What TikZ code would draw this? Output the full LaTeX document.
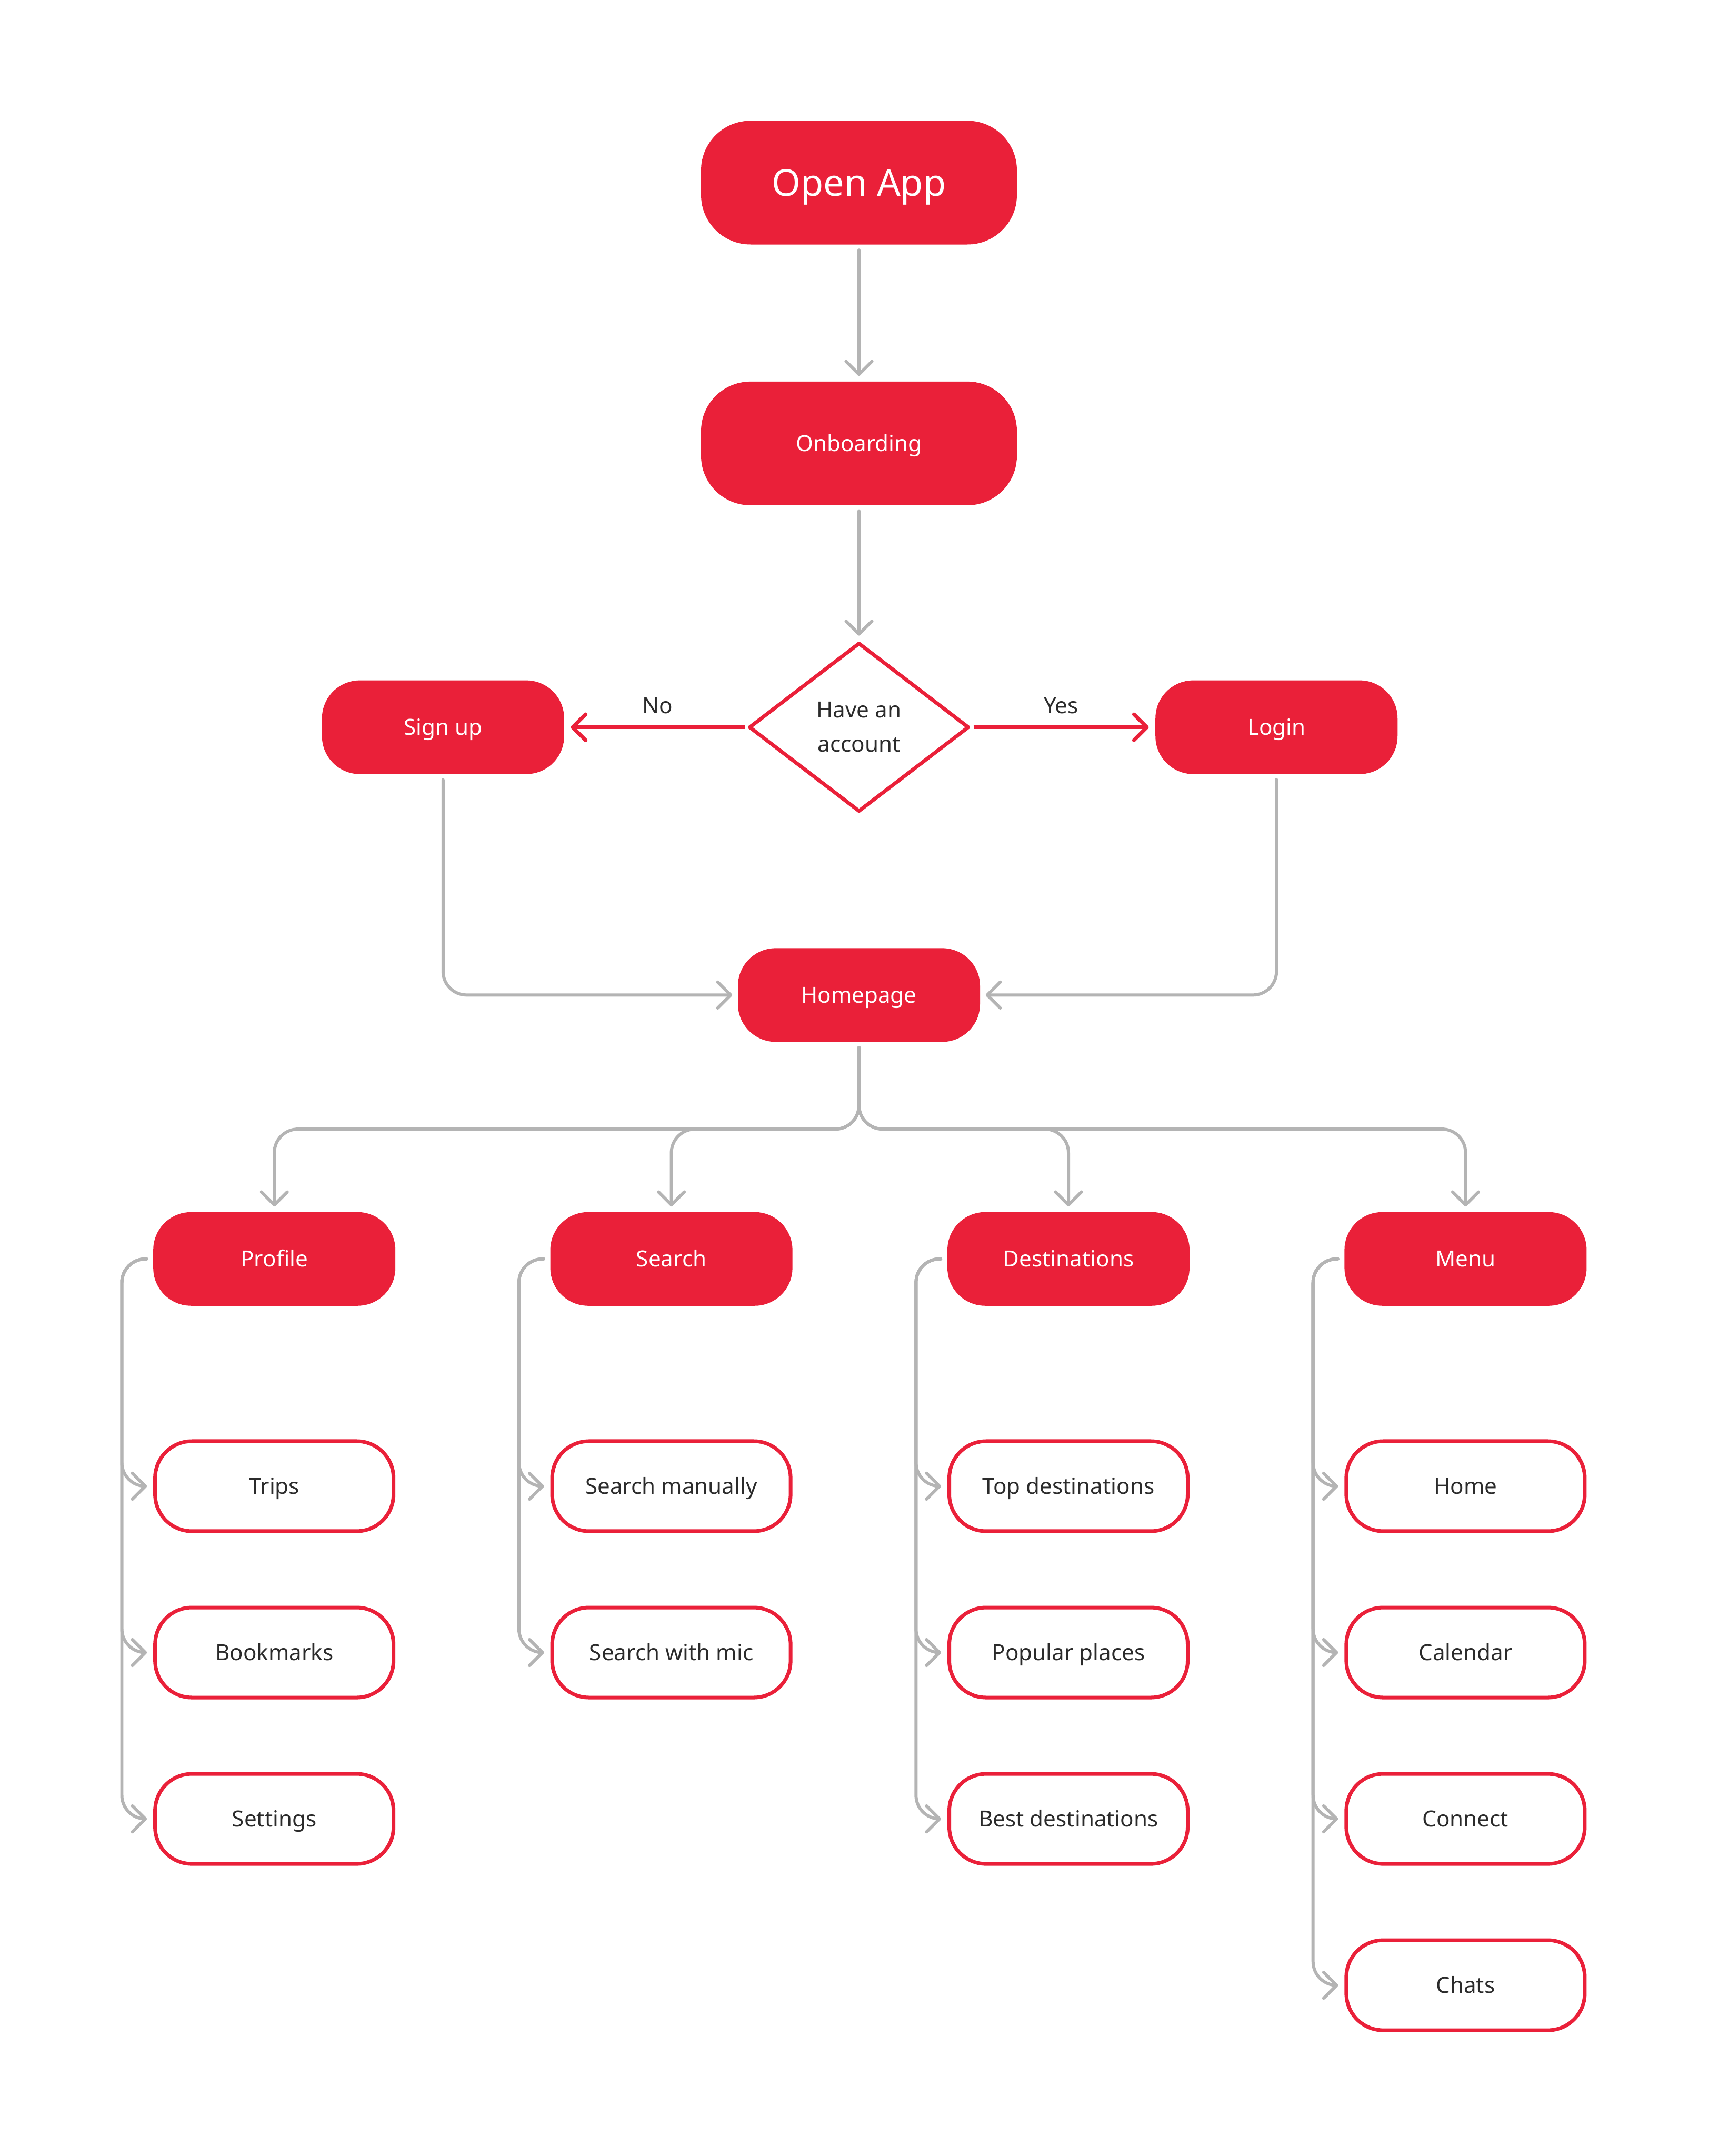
\documentclass[tikz,border=0pt]{standalone}
\usepackage{fontspec}
\setmainfont{Noto Sans}
\usepackage{xcolor}
\usetikzlibrary{positioning,arrows.meta,shapes.geometric,calc}
\definecolor{flowred}{RGB}{234,32,57}
\definecolor{flowgray}{RGB}{180,180,180}
\definecolor{flowtext}{RGB}{43,43,43}

\begin{document}
\begin{tikzpicture}[
        font=\fontsize{12}{14}\selectfont,
        >={Straight Barb[length=7pt, width=14pt, line cap=round, line join=round]},
        mainbox/.style={
                rectangle, rounded corners=0.72cm,
                fill=flowred, text=white,
                minimum width=4.6cm, minimum height=1.78cm,
                text height=8.6pt, text depth=0pt,
                align=center, inner sep=0pt
            },
        widebox/.style={
                mainbox, rounded corners=0.94cm,
                minimum width=6cm, minimum height=2.35cm
            },
        subbox/.style={
                rectangle, rounded corners=0.7cm,
                draw=flowred, line width=2pt, fill=white, text=flowtext,
                minimum width=4.53cm, minimum height=1.71cm,
                text height=8.6pt, text depth=0pt,
                align=center, inner sep=0pt
            },
        decision/.style={
                diamond, draw=flowred, line width=2pt, line join=round,
                fill=white, text=flowtext,
                minimum width=4.18cm, minimum height=3.21cm,
                inner sep=0pt, align=center,
                font=\fontsize{12}{18.5}\selectfont
            },
        arrow/.style={->, line width=1.7pt, draw=flowgray, rounded corners=0.45cm, line cap=round},
        choice/.style={->, line width=2pt, draw=flowred},
        choicelabel/.style={midway, above=0.1cm, text=flowtext}
    ]

    \useasboundingbox (0,0) rectangle (32.46,-40.96);

    % ===== Start =====
    \node[widebox, font=\fontsize{20}{24}\selectfont, text height=14.3pt] (openapp) at (16.32,-3.47) {Open App};
    \node[widebox, below=2.59cm of openapp] (onboard) {Onboarding};

    % ===== Account check =====
    \node[decision, below=2.57cm of onboard] (account) {Have an\\account};
    \node[mainbox, left=3.47cm of account] (signup) {Sign up};
    \node[mainbox, right=3.50cm of account] (login) {Login};

    % ===== Homepage =====
    \node[mainbox, below=2.55cm of account] (homepage) {Homepage};
    \coordinate[below=1.65cm of homepage.south] (split);

    % ===== Sections =====
    \node[mainbox, below=3.22cm of homepage, xshift=3.98cm] (destinations) {Destinations};
    \node[mainbox, left=2.93cm of destinations] (search) {Search};
    \node[mainbox, left=2.93cm of search] (profile) {Profile};
    \node[mainbox, right=2.93cm of destinations] (menu) {Menu};

    % ===== Profile pages =====
    \node[subbox, below=2.53cm of profile] (trips) {Trips};
    \node[subbox, below=1.38cm of trips] (bookmarks) {Bookmarks};
    \node[subbox, below=1.38cm of bookmarks] (settings) {Settings};

    % ===== Search pages =====
    \node[subbox, below=2.53cm of search] (manual) {Search manually};
    \node[subbox, below=1.38cm of manual] (mic) {Search with mic};

    % ===== Destination pages =====
    \node[subbox, below=2.53cm of destinations] (topdest) {Top destinations};
    \node[subbox, below=1.38cm of topdest] (popular) {Popular places};
    \node[subbox, below=1.38cm of popular] (bestdest) {Best destinations};

    % ===== Menu pages =====
    \node[subbox, below=2.53cm of menu] (menuhome) {Home};
    \node[subbox, below=1.38cm of menuhome] (calendar) {Calendar};
    \node[subbox, below=1.38cm of calendar] (connect) {Connect};
    \node[subbox, below=1.38cm of connect] (chats) {Chats};

    % ===== Arrows: start -> account check =====
    \draw[arrow] ([yshift=-0.1cm]openapp.south) -- ([yshift=0.1cm]onboard.north);
    \draw[arrow] ([yshift=-0.1cm]onboard.south) -- ([yshift=0.1cm]account.north);

    % ===== Decision =====
    \draw[choice] ([xshift=-0.05cm]account.west) -- ([xshift=0.12cm]signup.east) node[choicelabel] {No};
    \draw[choice] ([xshift=0.05cm]account.east) -- ([xshift=-0.12cm]login.west) node[choicelabel] {Yes};

    % ===== Sign up / Login -> Homepage =====
    \draw[arrow] ([yshift=-0.1cm]signup.south) |- ([xshift=-0.1cm]homepage.west);
    \draw[arrow] ([yshift=-0.1cm]login.south) |- ([xshift=0.1cm]homepage.east);

    % ===== Homepage -> sections =====
    \draw[arrow] ([yshift=-0.1cm]homepage.south) -- (split) -| ([yshift=0.1cm]profile.north);
    \draw[arrow] ([yshift=-0.1cm]homepage.south) -- (split) -| ([yshift=0.1cm]search.north);
    \draw[arrow] ([yshift=-0.1cm]homepage.south) -- (split) -| ([yshift=0.1cm]destinations.north);
    \draw[arrow] ([yshift=-0.1cm]homepage.south) -- (split) -| ([yshift=0.1cm]menu.north);

    % ===== Profile -> pages =====
    \draw[arrow] ([xshift=-0.12cm]profile.west) -- ++(-0.47,0) |- ([xshift=-0.12cm]trips.west);
    \draw[arrow] ([xshift=-0.12cm]profile.west) -- ++(-0.47,0) |- ([xshift=-0.12cm]bookmarks.west);
    \draw[arrow] ([xshift=-0.12cm]profile.west) -- ++(-0.47,0) |- ([xshift=-0.12cm]settings.west);

    % ===== Search -> pages =====
    \draw[arrow] ([xshift=-0.12cm]search.west) -- ++(-0.47,0) |- ([xshift=-0.12cm]manual.west);
    \draw[arrow] ([xshift=-0.12cm]search.west) -- ++(-0.47,0) |- ([xshift=-0.12cm]mic.west);

    % ===== Destinations -> pages =====
    \draw[arrow] ([xshift=-0.12cm]destinations.west) -- ++(-0.47,0) |- ([xshift=-0.12cm]topdest.west);
    \draw[arrow] ([xshift=-0.12cm]destinations.west) -- ++(-0.47,0) |- ([xshift=-0.12cm]popular.west);
    \draw[arrow] ([xshift=-0.12cm]destinations.west) -- ++(-0.47,0) |- ([xshift=-0.12cm]bestdest.west);

    % ===== Menu -> pages =====
    \draw[arrow] ([xshift=-0.12cm]menu.west) -- ++(-0.47,0) |- ([xshift=-0.12cm]menuhome.west);
    \draw[arrow] ([xshift=-0.12cm]menu.west) -- ++(-0.47,0) |- ([xshift=-0.12cm]calendar.west);
    \draw[arrow] ([xshift=-0.12cm]menu.west) -- ++(-0.47,0) |- ([xshift=-0.12cm]connect.west);
    \draw[arrow] ([xshift=-0.12cm]menu.west) -- ++(-0.47,0) |- ([xshift=-0.12cm]chats.west);

\end{tikzpicture}
\end{document}
